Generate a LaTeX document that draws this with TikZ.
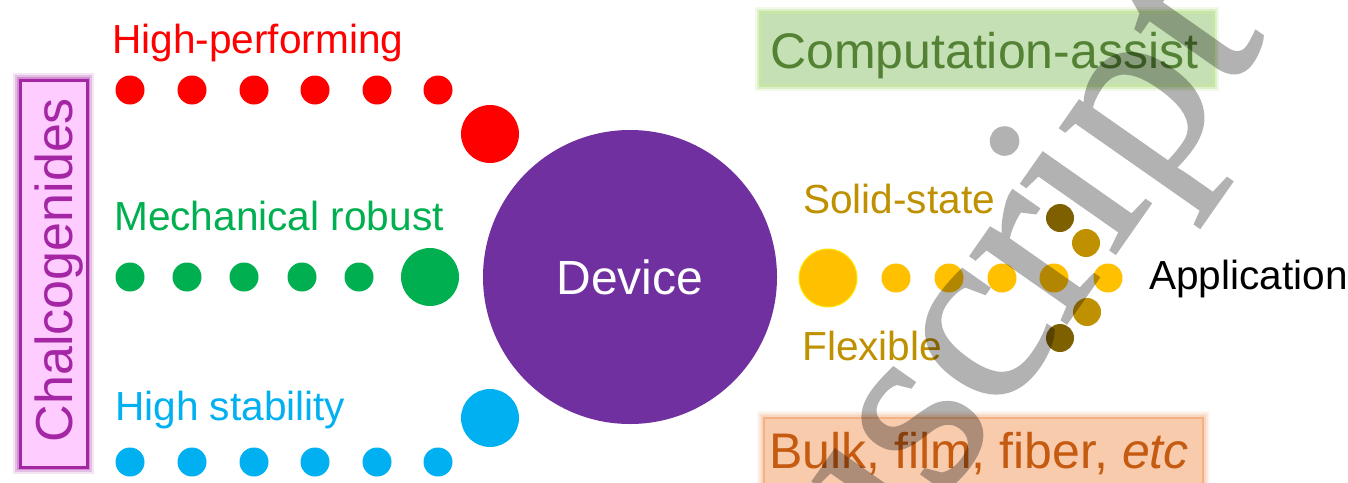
\documentclass[tikz,border=0pt]{standalone}
\usepackage{fontspec}
\setmainfont{Liberation Sans}
\newfontfamily\wmfont{Liberation Serif}[FakeBold=1]
\definecolor{cred}{RGB}{255,0,0}
\definecolor{cgreen}{RGB}{0,176,80}
\definecolor{cblue}{RGB}{0,176,240}
\definecolor{cpurple}{RGB}{112,48,160}
\definecolor{cgold}{RGB}{255,192,0}
\definecolor{cgoldm}{RGB}{191,144,0}
\definecolor{cgoldd}{RGB}{127,96,0}
\definecolor{cmag}{RGB}{165,38,165}
\definecolor{cpink}{RGB}{255,204,255}
\definecolor{cboxg}{RGB}{197,224,180}
\definecolor{cglowg}{RGB}{146,208,80}
\definecolor{ctextg}{RGB}{84,130,53}
\definecolor{cboxo}{RGB}{248,203,173}
\definecolor{cglowo}{RGB}{244,177,131}
\definecolor{ctexto}{RGB}{197,90,17}
\tikzset{
  bead/.style={circle, inner sep=0pt, minimum size=29pt},
  bigbead/.style={circle, inner sep=0pt, minimum size=58pt},
  arcbead/.style={circle, inner sep=0pt, minimum size=28pt},
  lab/.style={anchor=base west, inner sep=0pt, font=\fontsize{40.6}{48}\selectfont},
  biglab/.style={anchor=base west, inner sep=0pt, font=\fontsize{50}{60}\selectfont},
  wm/.style={inner sep=0pt, text=black, font=\wmfont\fontsize{255}{255}\selectfont}
}
\begin{document}
\begin{tikzpicture}[x=1pt,y=-1pt]
\useasboundingbox (0,0) rectangle (1348,482);
\clip (0,0) rectangle (1348,482);
\fill[white] (0,0) rectangle (1348,482);

% Chalcogenides box
\foreach \w/\o in {14/0.12, 10/0.2, 6/0.3} {
  \draw[cmag, line width=\w pt, opacity=\o] (20,80) rectangle (87,467);
}
\draw[cmag, fill=cpink, line width=3pt] (20,80) rectangle (87,467);
\node[rotate=90, anchor=base, inner sep=0pt, text=cmag, font=\fontsize{52}{60}\selectfont] (chal) at (72,270) {Chalcogenides};

% red row
\node[lab, text=cred] (hp) at (112,53) {High-performing};
\foreach \x [count=\i] in {130,192,254,315,377,438} {
  \node[bead, fill=cred] (r\i) at (\x,90) {};
}
\node[bigbead, fill=cred] (rbig) at (490,134) {};

% green row
\node[lab, text=cgreen] (mr) at (114,230) {Mechanical robust};
\foreach \x [count=\i] in {130,187,244,302,359} {
  \node[bead, fill=cgreen] (g\i) at (\x,277) {};
}
\node[bigbead, fill=cgreen] (gbig) at (430,277) {};

% blue row
\node[lab, text=cblue] (hs) at (115,420) {High stability};
\foreach \x [count=\i] in {130,192,254,315,377,438} {
  \node[bead, fill=cblue] (b\i) at (\x,462) {};
}
\node[bigbead, fill=cblue] (bbig) at (490,418) {};

% device
\node[circle, fill=cpurple, inner sep=0pt, minimum size=294pt, text=white, font=\fontsize{48}{58}\selectfont] (dev) at (630,277) {Device};

% computation-assist box
\foreach \w/\o in {14/0.12, 10/0.2, 6/0.3} {
  \draw[cglowg, line width=\w pt, opacity=\o] (762,14) rectangle (1212,84);
}
\fill[cboxg] (762,14) rectangle (1212,84);
\node[biglab, text=ctextg] (comp) at (770,68) {Computation-assist};

% bulk box
\foreach \w/\o in {14/0.12, 10/0.2, 6/0.3} {
  \draw[cglowo, line width=\w pt, opacity=\o] (764,418) rectangle (1203,500);
}
\draw[cglowo, fill=cboxo, line width=2pt] (764,418) rectangle (1203,500);
\node[anchor=base west, inner sep=0pt, text=ctexto, font=\fontsize{50}{60}\selectfont] (bulk) at (769,468) {Bulk, film, fiber, \textit{etc}};

% application side
\node[lab, text=cgoldm] (ss) at (803,213) {Solid-state};
\node[lab, text=cgoldm] (fx) at (802,360) {Flexible};
\node[lab, text=black] (app) at (1149,289) {Application};
\node[bigbead, fill=cgold, draw=yellow!80!cgold, line width=1pt] (ybig) at (828,278) {};
\foreach \x [count=\i] in {896,949,1002,1054,1108} {
  \node[bead, fill=cgold] (y\i) at (\x,278) {};
}
\node[arcbead, fill=cgoldd] (a1) at (1060,218) {};
\node[arcbead, fill=cgoldm] (a2) at (1086,243) {};
\node[arcbead, fill=cgoldm] (a3) at (1087,312) {};
\node[arcbead, fill=cgoldd] (a4) at (1060,338) {};

% watermark
\begin{scope}[transparency group, opacity=0.3]
\node[wm, rotate=55, anchor=base east] (wmark) at (1267,37) {Manuscript};
\end{scope}
\end{tikzpicture}
\end{document}
